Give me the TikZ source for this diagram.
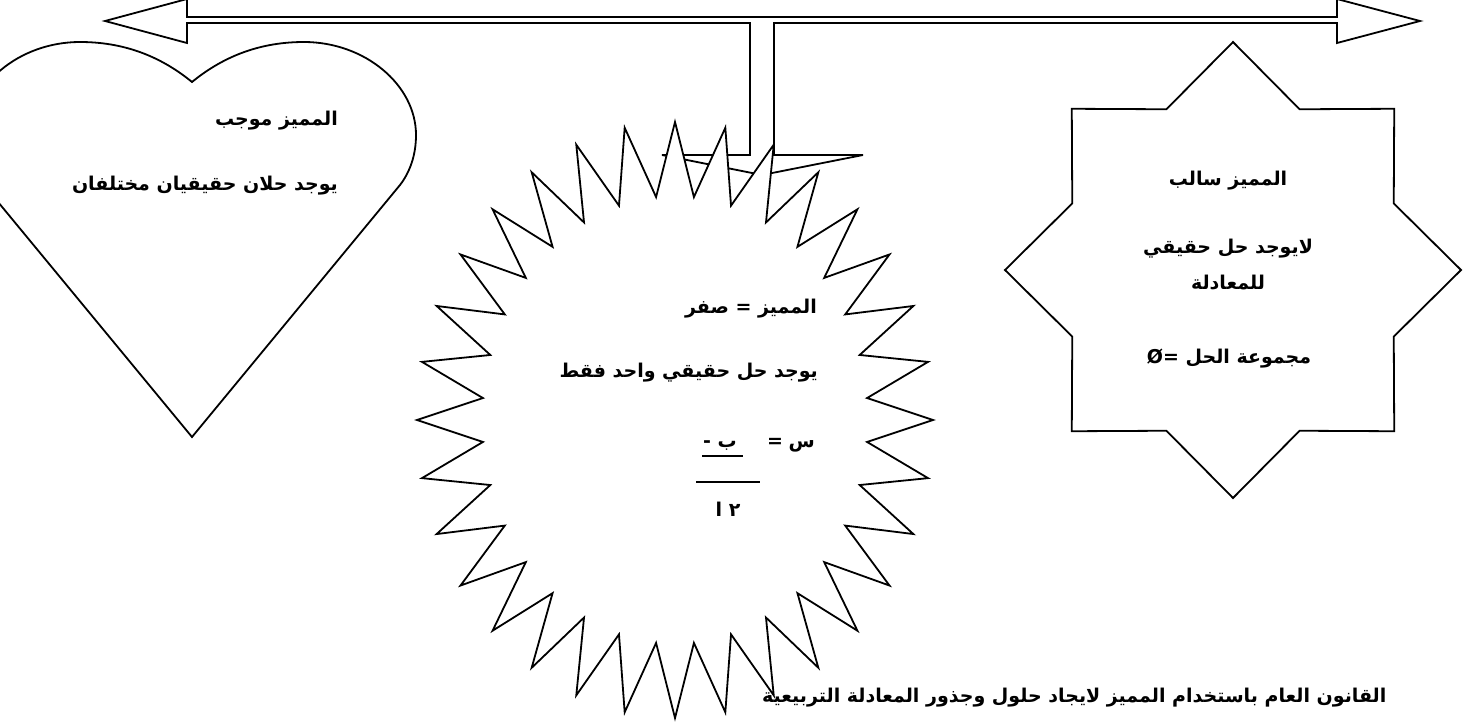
\documentclass[tikz,border=0pt]{standalone}
\usepackage{fontspec}
\newfontfamily\arabicfont[Script=Arabic]{DejaVu Sans}
\TeXXeTstate=1

\begin{document}
\begin{tikzpicture}[
  x=1pt, y=-1pt,
  shape line/.style={draw, line width=1.8pt, line join=miter, fill=white},
  arab/.style={font=\arabicfont\bfseries\fontsize{19}{23}\selectfont, inner sep=0pt}
]
  \useasboundingbox (0,0) rectangle (1469,723);
  \clip (0,0) rectangle (1469,723);

  % double arrow with stem
  \draw[shape line] (105,21) -- (187,-1) -- (187,17) -- (1337,17) -- (1337,-1) -- (1420,21)
    -- (1337,43) -- (1337,23) -- (774,23) -- (774,155) -- (863,155) -- (762,175)
    -- (662,155) -- (750,155) -- (750,23) -- (187,23) -- (187,43) -- cycle;

  % heart
  \draw[shape line] (192,82) .. controls (225,55) and (262,42) .. (304,42)
    .. controls (365,42) and (416,85) .. (416,135)
    .. controls (416,155) and (410,172) .. (400,185) -- (192,437) -- (-16,185)
    .. controls (-26,172) and (-32,155) .. (-32,135)
    .. controls (-32,85) and (19,42) .. (80,42)
    .. controls (122,42) and (159,55) .. (192,82) -- cycle;

  % eight point star
  \begin{scope}[shift={(1233,270)}]
    \draw[shape line] (90:228) \foreach \k in {0,...,7} {
      -- ({90+\k*45+22.5}:174) -- ({90+(\k+1)*45}:228) } -- cycle;
  \end{scope}

  % sunburst
  \begin{scope}[shift={(675,420)}]
    \draw[shape line] (0:258 and 298) \foreach \k in {0,...,31} {
      -- ({\k*11.25+5.625}:193 and 224) -- ({(\k+1)*11.25}:258 and 298) } -- cycle;
  \end{scope}

  % heart text
  \node[arab, anchor=base east] (posA) at (338,125) {\beginR المميز موجب\endR};
  \node[arab, anchor=base east] (posB) at (338,190) {\beginR يوجد حلان حقيقيان مختلفان\endR};

  % star text
  \node[arab, anchor=base] (negA) at (1228,185) {\beginR المميز سالب\endR};
  \node[arab, anchor=base] (negB) at (1228,253) {\beginR لايوجد حل حقيقي\endR};
  \node[arab, anchor=base] (negC) at (1228,289) {\beginR للمعادلة\endR};
  \node[arab, anchor=base] (negD) at (1229,363) {\beginR مجموعة الحل Ø=\endR};

  % sunburst text
  \node[arab, anchor=base east] (zeroA) at (817,313) {\beginR المميز = صفر\endR};
  \node[arab, anchor=base east] (zeroB) at (818,377) {\beginR يوجد حل حقيقي واحد فقط\endR};
  \node[arab, anchor=base east] (rootS) at (815,447) {س};
  \node[arab, anchor=base] (rootEq) at (775,447) {=};
  \node[arab, anchor=base west] (rootB) at (703,447) {\beginR ب -\endR};
  \draw[line width=2.6pt] (702,456) -- (743,456);
  \draw[line width=1.5pt] (696,482) -- (760,482);
  \node[arab, anchor=base] (rootA) at (728,516) {\beginR ٢ ا\endR};

  % title
  \node[arab, anchor=base west] (title) at (762,702)
    {\beginR القانون العام باستخدام المميز لايجاد حلول وجذور المعادلة التربيعية\endR};
\end{tikzpicture}
\end{document}
